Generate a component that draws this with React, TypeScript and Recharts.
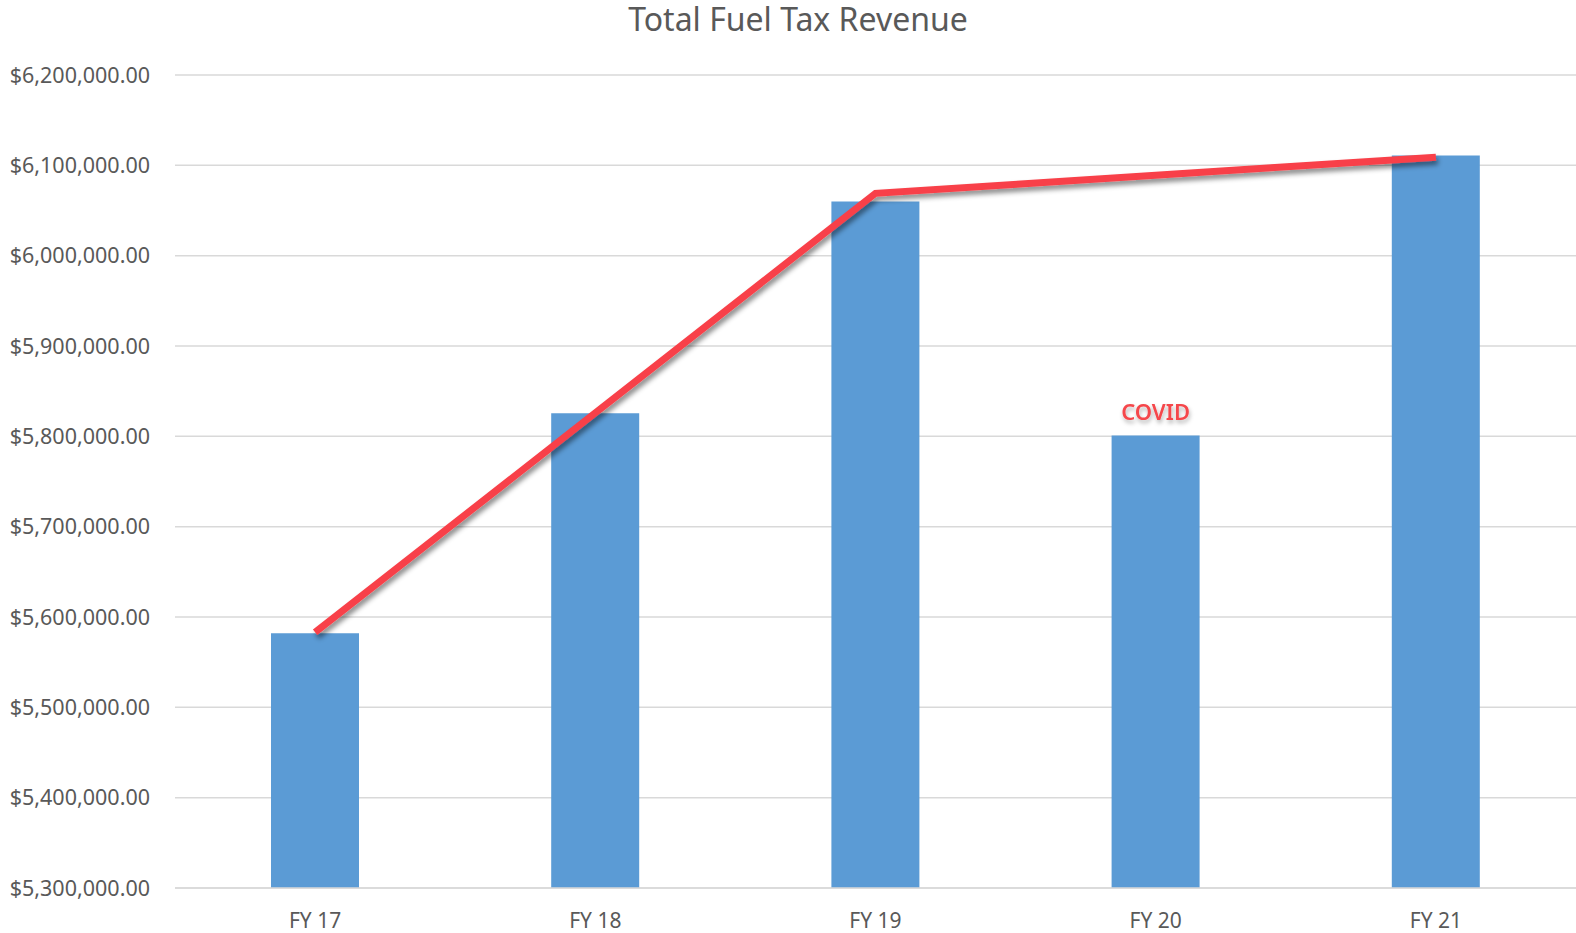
import React from "react";
import {
  ComposedChart,
  Bar,
  Line,
  XAxis,
  YAxis,
  CartesianGrid,
  LabelList,
} from "recharts";

const categories = ["FY 17", "FY 18", "FY 19", "FY 20", "FY 21"];
const revenue = [5582000, 5825600, 6060000, 5801000, 6111000];
const trend: (number | null)[] = [5583000, null, 6069000, null, 6109000];
const notes = ["", "", "", "COVID", ""];
const yTicks = [5300000, 5400000, 5500000, 5600000, 5700000, 5800000, 5900000, 6000000, 6100000, 6200000];

const data = categories.map((c, i) => ({
  name: c,
  revenue: revenue[i],
  trend: trend[i],
  note: notes[i],
}));

const fmt = (v: number) =>
  "$" + v.toLocaleString("en-US", { minimumFractionDigits: 2, maximumFractionDigits: 2 });

const FONT = "'Noto Sans', sans-serif";
const TEXT = "#595959";

export default function App() {
  return (
    <div style={{ position: "absolute", left: 0, top: 0, width: 1576, height: 933, background: "#fff", fontFamily: FONT }}>
      <style>{`.recharts-line-curve { filter: url(#lineShadow); } .covid-label text, text.covid-label { filter: url(#textShadow); }`}</style>
      <svg width="0" height="0" style={{ position: "absolute" }}>
        <defs>
          <filter id="lineShadow" x="-10%" y="-20%" width="130%" height="150%">
            <feDropShadow dx="2" dy="4" stdDeviation="2.5" floodColor="#000" floodOpacity="0.45" />
          </filter>
          <filter id="textShadow" x="-20%" y="-30%" width="150%" height="180%">
            <feDropShadow dx="1" dy="3" stdDeviation="2" floodColor="#000" floodOpacity="0.3" />
          </filter>
        </defs>
      </svg>
      <div
        style={{
          position: "absolute",
          left: 798,
          top: 1,
          transform: "translateX(-50%)",
          fontSize: 32,
          lineHeight: 1.1,
          color: TEXT,
          whiteSpace: "nowrap",
        }}
      >
        Total Fuel Tax Revenue
      </div>
      <ComposedChart
        width={1576}
        height={933}
        data={data}
        margin={{ top: 75, right: 0, bottom: 8, left: 0 }}
      >
        <CartesianGrid horizontal vertical={false} stroke="#D9D9D9" strokeWidth={1.5} />
        <XAxis
          dataKey="name"
          height={37}
          axisLine={{ stroke: "#D9D9D9", strokeWidth: 1.5 }}
          tickLine={false}
          tickSize={0}
          tickMargin={25}
          tick={{ fill: TEXT, fontSize: 21, fontFamily: FONT }}
        />
        <YAxis
          width={175}
          domain={[5300000, 6200000]}
          ticks={yTicks}
          allowDataOverflow
          axisLine={false}
          tickLine={false}
          tickSize={0}
          tickMargin={25}
          tickFormatter={fmt}
          tick={{ fill: TEXT, fontSize: 21.5, fontFamily: FONT }}
        />
        <Bar dataKey="revenue" fill="#5B9BD5" barSize={88} isAnimationActive={false}>
          <LabelList
            dataKey="note"
            position="top"
            offset={15}
            className="covid-label"
            style={{ fill: "#F5474B", fontSize: 22, fontWeight: 600, fontFamily: FONT }}
          />
        </Bar>
        <Line
          dataKey="trend"
          stroke="#F84048"
          strokeWidth={7}
          dot={false}
          activeDot={false}
          connectNulls
          isAnimationActive={false}
        />
      </ComposedChart>
    </div>
  );
}
